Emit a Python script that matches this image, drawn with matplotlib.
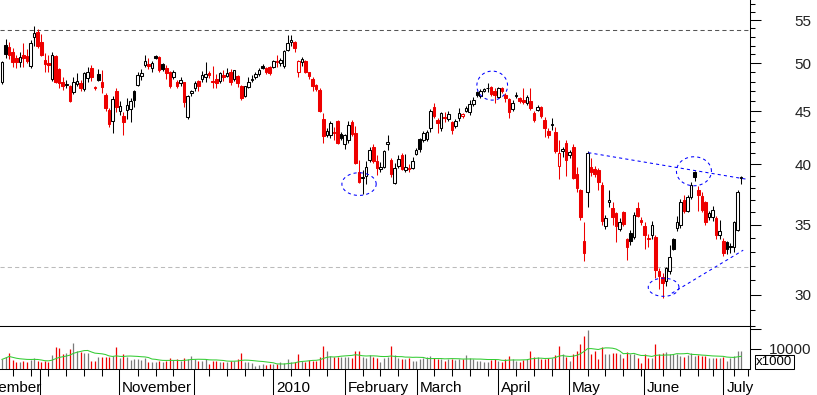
import matplotlib
matplotlib.use('Agg')
import matplotlib.pyplot as plt
from matplotlib.transforms import blended_transform_factory, offset_copy
from matplotlib.ticker import NullFormatter
import numpy as np
import pandas as pd

plt.rcParams['font.family'] = ['Liberation Sans', 'DejaVu Sans']

opens = [48.0, 52.1, 51.8, 51.3, 50.6, 50.2, 50.9, 50.8, 49.7, 53.0,
         53.6, 52.4, 50.4, 50.0, 48.3, 50.8, 49.4, 48.0, 47.7, 47.6,
         46.9, 47.8, 47.9, 47.2, 48.4, 49.5, 47.3, 48.8, 48.0, 46.6,
         45.1, 44.0, 47.0, 45.0, 44.5, 45.1, 45.2, 47.0, 47.7, 48.6,
         49.8, 49.9, 49.5, 50.8, 50.7, 49.9, 49.5, 49.1, 48.5, 48.0,
         47.9, 48.0, 44.4, 46.8, 47.4, 48.1, 48.3, 48.5, 48.9, 48.1,
         48.3, 48.1, 48.7, 48.6, 49.1, 48.3, 48.6, 47.6, 46.5, 47.5,
         48.2, 48.5, 48.8, 49.7, 49.5, 49.6, 49.6, 50.3, 50.0, 49.7,
         51.5, 52.4, 52.4, 49.0, 50.2, 50.3, 49.0, 48.3, 47.7, 47.1,
         44.2, 42.7, 42.7, 43.0, 44.0, 42.8, 41.8, 42.2, 43.9, 42.9,
         39.3, 38.8, 39.0, 40.4, 41.6, 40.3, 39.6, 39.8, 41.8, 40.4,
         38.4, 39.9, 40.8, 39.5, 39.7, 39.7, 40.9, 42.3, 42.2, 42.3,
         43.3, 45.4, 44.1, 43.3, 44.4, 44.2, 43.9, 43.5, 44.3, 44.5,
         45.0, 44.9, 45.7, 46.9, 46.5, 47.0, 47.3, 47.5, 47.0, 46.4,
         47.3, 46.6, 46.2, 45.2, 46.5, 46.3, 46.1, 45.8, 46.0, 44.8,
         45.1, 45.4, 44.1, 43.1, 43.6, 43.0, 39.9, 41.2, 41.9, 40.8,
         41.6, 39.2, 37.8, 33.8, 37.6, 39.8, 39.6, 39.5, 38.2, 34.9,
         36.8, 36.3, 35.9, 34.7, 36.0, 33.9, 34.4, 34.1, 36.3, 35.4,
         34.9, 34.0, 34.2, 34.1, 31.6, 31.2, 30.9, 31.6, 33.9, 34.8,
         35.0, 37.0, 36.1, 37.2, 39.3, 37.8, 37.3, 36.8, 35.6, 35.6,
         35.5, 34.2, 33.8, 33.7, 33.4, 33.3, 34.6, 38.8]
highs = [50.3, 52.7, 52.4, 51.7, 50.9, 51.3, 52.3, 51.6, 52.6, 54.3,
         53.9, 53.3, 51.2, 50.9, 51.3, 50.9, 49.5, 48.5, 48.2, 47.7,
         48.5, 48.9, 48.2, 49.0, 49.6, 49.8, 47.6, 49.4, 49.3, 46.8,
         45.3, 46.5, 47.3, 46.0, 44.9, 46.3, 46.3, 47.1, 49.1, 49.4,
         50.9, 50.6, 50.3, 50.9, 50.8, 50.0, 49.8, 49.2, 49.3, 48.2,
         48.5, 48.0, 46.6, 47.1, 48.1, 48.2, 49.2, 50.1, 49.2, 49.7,
         48.8, 49.0, 49.3, 49.5, 49.4, 49.3, 48.7, 47.7, 47.6, 48.5,
         48.7, 49.0, 49.5, 49.9, 49.6, 49.7, 50.4, 50.9, 50.6, 51.5,
         53.2, 53.2, 52.5, 50.4, 50.7, 50.4, 49.1, 48.5, 47.8, 47.4,
         44.8, 43.3, 44.0, 43.4, 44.1, 43.0, 42.8, 44.0, 44.1, 43.5,
         40.4, 39.5, 40.3, 41.6, 41.8, 40.8, 40.2, 41.3, 42.7, 40.6,
         40.1, 40.8, 41.0, 40.9, 40.0, 40.7, 41.5, 42.4, 43.1, 43.2,
         45.2, 45.8, 44.3, 44.9, 44.9, 45.0, 44.0, 44.2, 45.3, 44.8,
         45.5, 46.1, 46.4, 47.0, 47.2, 47.4, 47.9, 47.6, 47.4, 47.5,
         47.5, 46.8, 46.3, 46.1, 46.9, 46.4, 47.3, 46.6, 47.4, 45.0,
         45.6, 45.5, 44.4, 43.3, 44.3, 43.4, 42.2, 41.6, 42.2, 41.3,
         41.8, 39.8, 37.9, 35.2, 41.2, 40.6, 39.9, 39.7, 38.5, 35.8,
         37.8, 36.8, 36.0, 35.5, 36.1, 34.0, 34.6, 36.0, 36.8, 35.6,
         35.2, 34.3, 35.3, 34.2, 31.8, 31.5, 31.9, 33.5, 34.0, 35.7,
         37.1, 37.4, 37.4, 38.5, 39.4, 38.1, 37.6, 36.9, 36.1, 36.5,
         35.7, 35.4, 34.0, 33.8, 33.6, 35.3, 37.8, 39.0]
lows = [47.8, 50.6, 50.5, 49.6, 49.5, 49.6, 49.6, 50.0, 49.5, 52.0,
        51.7, 50.8, 49.0, 49.0, 48.1, 47.9, 47.3, 47.1, 47.3, 45.9,
        46.7, 47.6, 47.0, 47.0, 48.0, 48.1, 47.1, 48.1, 46.8, 45.0,
        43.4, 42.9, 44.9, 44.6, 42.7, 44.2, 43.9, 45.4, 47.6, 48.2,
        49.6, 49.4, 49.0, 50.5, 49.0, 49.2, 48.3, 47.4, 48.3, 47.4,
        47.6, 45.4, 44.2, 46.5, 47.0, 47.0, 48.0, 48.0, 48.4, 47.4,
        47.4, 47.9, 48.1, 48.5, 47.7, 48.1, 47.5, 46.1, 46.4, 47.3,
        48.0, 48.3, 48.6, 49.4, 48.8, 48.7, 49.5, 49.6, 49.7, 49.5,
        51.4, 51.9, 51.3, 48.5, 49.7, 48.9, 48.3, 47.0, 47.0, 44.9,
        41.9, 42.5, 42.4, 42.2, 41.8, 42.2, 41.4, 41.9, 42.6, 40.0,
        38.4, 37.5, 38.3, 40.2, 40.1, 39.1, 39.3, 39.7, 41.3, 38.9,
        38.3, 39.7, 39.5, 39.3, 39.3, 39.6, 40.8, 41.1, 42.0, 42.1,
        43.0, 44.3, 42.9, 43.1, 43.9, 44.0, 42.8, 43.3, 44.0, 44.3,
        44.9, 44.6, 45.5, 46.4, 46.3, 46.9, 46.9, 46.5, 45.8, 46.3,
        46.8, 45.9, 44.3, 45.0, 46.3, 45.8, 45.7, 45.6, 45.1, 43.9,
        45.0, 44.3, 42.5, 42.4, 43.2, 41.0, 38.7, 40.7, 39.0, 40.6,
        38.7, 37.6, 35.4, 32.3, 36.4, 39.0, 38.9, 37.8, 35.0, 34.7,
        36.4, 35.0, 33.7, 34.5, 34.9, 32.4, 33.5, 33.9, 35.6, 35.0,
        33.2, 33.3, 33.9, 31.1, 30.4, 29.8, 30.6, 31.4, 33.1, 34.5,
        34.8, 35.9, 36.0, 37.1, 38.6, 36.1, 36.0, 35.0, 35.4, 35.3,
        33.9, 33.9, 32.7, 32.8, 32.9, 33.0, 34.5, 38.3]
closes = [50.2, 51.0, 50.9, 50.2, 50.1, 50.7, 50.6, 50.3, 52.3, 53.5,
          52.0, 50.9, 49.9, 49.8, 50.9, 48.0, 47.9, 47.6, 47.8, 46.0,
          48.0, 48.1, 47.3, 48.9, 49.1, 48.5, 47.5, 48.2, 47.5, 45.3,
          43.7, 46.2, 45.4, 45.5, 43.9, 45.6, 46.0, 46.1, 48.7, 48.9,
          50.3, 49.7, 50.0, 50.6, 49.3, 49.4, 48.9, 47.6, 49.1, 47.6,
          48.2, 45.9, 46.5, 47.0, 47.9, 47.6, 48.7, 48.8, 48.7, 48.0,
          47.9, 48.9, 48.5, 48.9, 48.0, 49.3, 47.9, 46.3, 47.6, 48.0,
          48.3, 48.8, 49.3, 49.5, 49.0, 48.9, 50.3, 50.2, 50.4, 51.4,
          52.3, 52.6, 51.7, 50.3, 50.5, 49.1, 48.6, 47.6, 47.2, 45.0,
          42.6, 43.1, 43.8, 42.9, 41.9, 42.4, 42.7, 43.6, 42.8, 40.1,
          38.5, 38.9, 39.8, 41.3, 40.3, 39.7, 39.8, 41.2, 42.0, 39.2,
          39.7, 40.5, 39.6, 39.8, 39.6, 40.3, 41.3, 41.4, 42.9, 43.0,
          45.0, 44.5, 43.8, 44.8, 44.3, 44.7, 43.2, 44.0, 44.8, 44.7,
          45.3, 45.7, 46.1, 46.6, 47.0, 47.2, 47.4, 46.7, 46.6, 47.4,
          47.0, 46.3, 44.9, 45.8, 46.6, 46.0, 45.9, 46.4, 45.3, 44.1,
          45.4, 44.5, 43.3, 42.7, 43.7, 41.2, 41.0, 41.4, 40.4, 41.1,
          38.8, 38.0, 35.6, 32.9, 41.0, 39.3, 39.2, 38.5, 35.3, 35.5,
          37.0, 35.6, 34.9, 35.2, 35.1, 33.3, 33.8, 35.8, 35.7, 35.2,
          34.2, 33.9, 35.0, 31.7, 31.3, 30.8, 31.8, 32.6, 33.2, 35.2,
          36.8, 36.1, 37.2, 38.2, 38.9, 37.4, 36.2, 35.2, 35.9, 36.2,
          34.2, 34.5, 32.9, 33.2, 33.3, 35.2, 37.6, 38.9]
# volume in thousands
volumes = [4800, 6200, 7800, 4500, 3700, 3700, 4000, 3700, 4500, 5300,
           4200, 3700, 4200, 3700, 7000, 11200, 10300, 7300, 7800, 9800,
           13200, 9200, 8300, 7800, 7800, 4000, 4200, 5800, 5800, 6200,
           6200, 6700, 11200, 5300, 7300, 5800, 4500, 5000, 4800, 4500,
           5300, 3700, 3700, 3700, 4200, 3700, 4200, 5300, 4500, 4800,
           4200, 5300, 4800, 6500, 5000, 4200, 4000, 4800, 2300, 4200,
           4200, 3700, 3700, 3700, 4200, 4200, 5000, 7800, 3700, 3700,
           2800, 1700, 2000, 2500, 2000, 2300, 2500, 2300, 3700, 3200,
           4800, 3700, 3700, 7300, 4200, 3700, 4500, 4200, 4200, 5800,
           11500, 9200, 6500, 6200, 5800, 6200, 5800, 5800, 5300, 9200,
           9200, 6200, 5300, 7000, 5800, 5300, 3700, 5300, 5800, 11500,
           7000, 5300, 5000, 4800, 5700, 4200, 4200, 4800, 5300, 6200,
           6500, 5700, 4800, 4800, 4200, 4800, 4800, 4500, 4800, 4800,
           7000, 5700, 4800, 4200, 4200, 3700, 3700, 4500, 4800, 4200,
           3700, 5000, 6500, 4800, 4200, 3700, 4500, 4800, 9000, 5800,
           5800, 5000, 5000, 5300, 5300, 7000, 11500, 7300, 6200, 4200,
           7500, 9200, 12500, 16700, 19500, 7500, 9200, 5000, 11200, 7300,
           7300, 7800, 8200, 7300, 5700, 8700, 7300, 7300, 5300, 2800,
           7300, 5700, 5300, 12500, 7300, 8200, 8300, 7500, 7300, 7300,
           6500, 6200, 7000, 7800, 6500, 7000, 6500, 6500, 5700, 5700,
           5700, 5700, 6200, 4200, 5300, 6500, 9200, 9200]

month_pos = [-10.5, 10.7, 32.8, 53.8, 75.9, 96.1, 116.2, 138.9, 158.8, 179.8, 202.0]
month_labels = ['September', '', 'November', '', '2010', 'February', 'March',
                'April', 'May', 'June', 'July']
week_pos = [3, 8, 13, 18, 23, 28, 38, 43, 48, 58, 63, 68, 73, 81, 86, 91,
            101, 106, 111, 121, 126, 131, 136, 144, 149, 154, 164, 169, 174,
            179, 185, 190, 195, 199, 205, 209]

resistance = 53.8
support = 31.9
upper_trend_x = [164.2, 208.8]
upper_trend_y = [41.05, 38.7]
lower_trend_x = [187.6, 207.6]
lower_trend_y = [30.1, 33.1]
circle_x = [100.0, 137.3, 193.8, 185.3]
circle_y = [38.3, 47.6, 39.4, 30.5]
circle_rx = [4.8, 4.3, 4.9, 4.3]
circle_ry = [0.025, 0.032, 0.032, 0.02]

RED = '#ee0000'
BLACK = '#000000'
GRAY = '#7a7a7a'
BLUE = '#0000ff'

n = len(closes)
x = np.arange(n)
prev = [opens[0]] + closes[:-1]
colors = [RED if closes[i] < prev[i] else BLACK for i in range(n)]
faces = [colors[i] if closes[i] < opens[i] else 'white' for i in range(n)]
vol_colors = [RED if c == RED else GRAY for c in colors]

fig = plt.figure(figsize=(8.17, 3.95), dpi=100)
W, H = 817.0, 395.0
ax = fig.add_axes([0, (H - 326) / H, 750 / W, 326 / H])
axv = fig.add_axes([0, (H - 369) / H, 750 / W, 43 / H])
XLIM = (-0.56, 209.5)

# price candles
ax.vlines(x, lows, highs, colors=colors, linewidth=0.75, zorder=2)
bottoms = [min(o, c) for o, c in zip(opens, closes)]
heights = [max(abs(c - o), 0.02) for o, c in zip(opens, closes)]
ax.bar(x, heights, bottom=bottoms, width=0.72, color=faces, edgecolor=colors,
       linewidth=0.75, zorder=3)

ax.axhline(resistance, color='#555555', linewidth=0.75, linestyle=(0, (4, 3)), zorder=1)
ax.axhline(support, color='#bbbbbb', linewidth=0.75, linestyle=(0, (4, 3)), zorder=1)

ax.plot(upper_trend_x, upper_trend_y, color=BLUE, linewidth=0.75, linestyle=(0, (3, 3)), zorder=4)
ax.plot(lower_trend_x, lower_trend_y, color=BLUE, linewidth=0.75, linestyle=(0, (3, 3)), zorder=4)
t = np.linspace(0, 2 * np.pi, 120)
for cx, cy, rx, ry in zip(circle_x, circle_y, circle_rx, circle_ry):
    ax.plot(cx + rx * np.cos(t), cy * np.exp(ry * np.sin(t)), color=BLUE,
            linewidth=0.75, linestyle=(0, (3, 3)), zorder=4)

ax.set_yscale('log')
ax.set_xticks([])
major = [30, 35, 40, 45, 50, 55]
minor = [v for v in range(28, 58) if v not in major]
ax.yaxis.tick_right()
ax.set_yticks(major, [str(v) for v in major])
ax.set_yticks(minor, minor=True)
ax.yaxis.set_minor_formatter(NullFormatter())
ax.set_ylim(28.0, 57.5)
ax.set_xlim(*XLIM)
ax.tick_params(axis='y', which='major', direction='out', length=8, width=0.75,
               pad=36.5, labelsize=11, labelcolor='#222222')
ax.tick_params(axis='y', which='minor', direction='out', length=3.6, width=0.75)
for lbl in ax.get_yticklabels():
    lbl.set_ha('right')
for s in ['left', 'top']:
    ax.spines[s].set_visible(False)
ax.spines['right'].set_linewidth(0.75)
ax.spines['bottom'].set_linewidth(0.75)

# volume
axv.vlines(x, 0, volumes, colors=vol_colors, linewidth=0.9)
ma = pd.Series(volumes).rolling(10, min_periods=1).mean()
axv.plot(x, ma, color='#33cc33', linewidth=0.75)
axv.yaxis.tick_right()
axv.set_yticks([10000, 20000], ['10000', ''])
axv.tick_params(axis='y', direction='out', length=8, width=0.75, pad=36.5,
                labelsize=11, labelcolor='#222222')
for lbl in axv.get_yticklabels():
    lbl.set_ha('right')
axv.spines['left'].set_visible(False)
for s in ['top', 'right', 'bottom']:
    axv.spines[s].set_linewidth(0.75)

axv.set_xticks(month_pos)
axv.set_xticks(week_pos, minor=True)
axv.set_xlim(*XLIM)
axv.set_ylim(0, 21500)
axv.tick_params(axis='x', which='major', direction='out', length=18.7, width=0.75,
                labelbottom=False)
axv.tick_params(axis='x', which='minor', direction='out', length=5, width=0.75)

trans = offset_copy(blended_transform_factory(axv.transData, axv.transAxes),
                    fig=fig, x=3, y=-23, units='dots')
for p, lab in zip(month_pos, month_labels):
    if lab:
        axv.text(p, 0, lab, transform=trans, fontsize=11, ha='left',
                 va='baseline', clip_on=False)

fig.text(756 / W, 1 - 362 / H, 'x1000', fontsize=9.5, ha='left', va='center',
         bbox=dict(boxstyle='square,pad=0.1', fc='white', ec='black', lw=0.75))

plt.savefig('out.png', dpi=100)
